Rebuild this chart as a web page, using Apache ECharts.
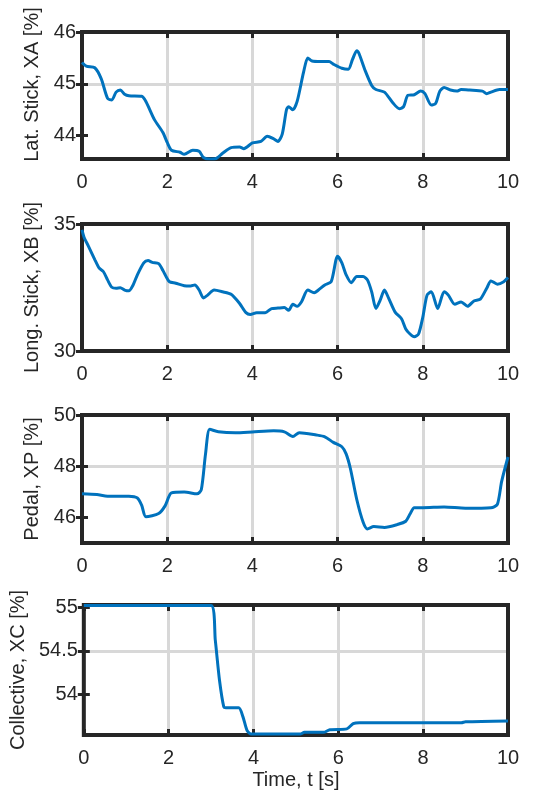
<!DOCTYPE html>
<html>
<head>
<meta charset="utf-8">
<script src="https://cdn.jsdelivr.net/npm/echarts@6.0.0/dist/echarts.min.js"></script>
<style>
html,body{margin:0;padding:0;background:#fff;}
#chart{width:542px;height:793px;}
</style>
</head>
<body>
<div id="chart"></div>
<script>
// ---- Data ----
const xTicks = [0, 2, 4, 6, 8, 10];

const latT  = [0,0.1,0.3,0.45,0.6,0.7,0.8,0.9,1.0,1.1,1.4,1.5,1.7,1.9,2.0,2.1,2.3,2.4,2.6,2.75,2.85,3.0,3.15,3.3,3.5,3.7,3.8,4.0,4.2,4.35,4.5,4.6,4.7,4.8,4.85,4.95,5.05,5.2,5.3,5.4,5.6,5.8,5.9,6.1,6.25,6.35,6.45,6.5,6.65,6.8,6.9,7.1,7.3,7.45,7.55,7.65,7.8,7.95,8.05,8.2,8.3,8.4,8.5,8.65,8.8,8.9,9.1,9.4,9.5,9.6,9.8,10];
const latXA = [45.41,45.34,45.31,45.1,44.72,44.69,44.84,44.88,44.8,44.77,44.76,44.66,44.31,44.06,43.87,43.72,43.68,43.64,43.72,43.7,43.58,43.55,43.56,43.66,43.77,43.78,43.75,43.86,43.89,43.99,43.94,43.89,44.03,44.5,44.56,44.5,44.66,45.22,45.5,45.44,45.43,45.43,45.38,45.3,45.28,45.47,45.64,45.59,45.25,44.97,44.89,44.84,44.63,44.52,44.56,44.78,44.79,44.86,44.81,44.59,44.62,44.86,44.93,44.88,44.86,44.89,44.88,44.86,44.81,44.84,44.89,44.89];
const latTicks = [44, 45, 46];

const lonT  = [0,0.05,0.15,0.3,0.4,0.5,0.6,0.7,0.8,0.9,1.0,1.1,1.2,1.3,1.45,1.55,1.65,1.8,1.9,2.05,2.2,2.4,2.55,2.65,2.75,2.85,2.95,3.1,3.3,3.5,3.7,3.85,3.95,4.1,4.3,4.45,4.6,4.75,4.85,4.95,5.05,5.15,5.3,5.45,5.55,5.7,5.85,6.0,6.1,6.2,6.32,6.45,6.6,6.7,6.8,6.9,7.0,7.1,7.2,7.35,7.5,7.6,7.7,7.8,7.9,8.0,8.1,8.2,8.35,8.5,8.6,8.75,8.9,9.05,9.2,9.35,9.5,9.6,9.75,9.9,10];
const lonXB = [34.77,34.47,34.13,33.6,33.27,33.13,32.8,32.51,32.47,32.49,32.4,32.37,32.6,33.0,33.47,33.56,33.49,33.44,33.17,32.73,32.67,32.57,32.56,32.6,32.4,32.09,32.2,32.4,32.33,32.23,31.87,31.51,31.44,31.51,31.51,31.67,31.69,31.71,31.6,31.84,31.76,31.93,32.4,32.29,32.4,32.6,32.73,33.73,33.47,33.0,32.69,32.93,32.93,32.8,32.33,31.67,32.0,32.4,32.07,31.53,31.27,30.87,30.67,30.56,30.67,31.33,32.2,32.33,31.67,32.33,32.2,31.84,31.93,31.76,31.97,32.04,32.47,32.76,32.63,32.73,32.89];
const lonTicks = [30, 35];

const pedT  = [0,0.35,0.6,1.1,1.3,1.4,1.5,1.8,1.95,2.1,2.4,2.7,2.8,2.9,3.0,3.2,3.6,4.0,4.5,4.75,4.95,5.1,5.5,5.7,5.9,6.1,6.2,6.3,6.45,6.6,6.7,6.85,7.1,7.4,7.6,7.7,7.8,8.0,8.5,9.0,9.6,9.75,9.85,10];
const pedXP = [46.92,46.89,46.83,46.83,46.76,46.48,46.03,46.15,46.45,46.96,46.99,46.92,47.08,48.48,49.44,49.35,49.31,49.34,49.38,49.34,49.16,49.31,49.22,49.15,48.93,48.76,48.48,47.91,46.7,45.81,45.55,45.64,45.61,45.72,45.85,46.13,46.38,46.38,46.41,46.36,46.38,46.51,47.4,48.36];
const pedTicks = [46, 48, 50];

const colT  = [0,1,2,3.0,3.1,3.2,3.3,3.35,3.65,3.75,3.85,3.95,4.5,5.1,5.2,5.65,5.8,6.2,6.35,6.5,7.5,8.9,9.0,10];
const colXC = [55.02,55.02,55.02,55.02,54.62,54.16,53.86,53.85,53.85,53.75,53.59,53.55,53.55,53.55,53.57,53.57,53.6,53.61,53.67,53.68,53.68,53.68,53.69,53.7];
const colTicks = [54, 54.5, 55];

// ---- Layout / style ----
const FONT = 'Liberation Sans, Arial, Helvetica, sans-serif';
const TXT = '#262626';
const LEFT = 82, WIDTH = 426;
const panels = [
  {top: 32,  height: 127, t: latT, v: latXA, ticks: latTicks, min: 43.55, max: 46,    name: 'Lat. Stick, XA [%]',  gap: 32, pad: [0,0,0,22]},
  {top: 224, height: 127, t: lonT, v: lonXB, ticks: lonTicks, min: 30,    max: 35,    name: 'Long. Stick, XB [%]', gap: 32, pad: [0,0,0,0]},
  {top: 415, height: 128, t: pedT, v: pedXP, ticks: pedTicks, min: 45,    max: 50,    name: 'Pedal, XP [%]',       gap: 32, pad: [0,0,0,0]},
  {top: 605, height: 130, t: colT, v: colXC, ticks: colTicks, min: 53.54, max: 55.025, name: 'Collective, XC [%]', gap: 46, pad: [0,0,0,0]}
];

const tickStyle = {show: true, inside: true, length: 6, lineStyle: {color: TXT, width: 3}};
const gridLine = {show: true, showMinLine: false, showMaxLine: false, lineStyle: {color: '#d8d8d8', width: 3}};

const grid = [], xAxis = [], yAxis = [], series = [];
panels.forEach((p, i) => {
  grid.push({left: LEFT, width: WIDTH, top: p.top, height: p.height, show: true, z: 3,
             borderColor: TXT, borderWidth: 4, backgroundColor: 'transparent'});
  xAxis.push({
    type: 'value', gridIndex: i, position: 'bottom', min: 0, max: 10, interval: 2,
    axisLine: {show: false}, axisTick: tickStyle, splitLine: gridLine,
    axisLabel: {fontSize: 20, color: TXT, fontFamily: FONT, margin: 13},
    name: i === 3 ? 'Time, t [s]' : '', nameLocation: 'middle', nameGap: 35,
    nameTextStyle: {fontSize: 20, color: TXT, fontFamily: FONT}
  });
  xAxis.push({
    type: 'value', gridIndex: i, position: 'top', min: 0, max: 10, interval: 2,
    axisLine: {show: false}, axisTick: tickStyle, splitLine: {show: false}, axisLabel: {show: false}
  });
  yAxis.push({
    type: 'value', gridIndex: i, position: 'left', min: p.min, max: p.max,
    axisLine: {show: false},
    axisTick: Object.assign({}, tickStyle, {customValues: p.ticks}),
    splitLine: gridLine,
    axisLabel: {fontSize: 20, color: TXT, fontFamily: FONT, margin: 6, customValues: p.ticks},
    name: p.name, nameLocation: 'middle', nameRotate: 90, nameGap: p.gap,
    nameTextStyle: {fontSize: 20, color: TXT, fontFamily: FONT, padding: p.pad}
  });
  yAxis.push({
    type: 'value', gridIndex: i, position: 'right', min: p.min, max: p.max,
    axisLine: {show: false},
    axisTick: Object.assign({}, tickStyle, {customValues: p.ticks}),
    splitLine: {show: false}, axisLabel: {show: false, customValues: p.ticks}
  });
  series.push({
    type: 'line', xAxisIndex: 2 * i, yAxisIndex: 2 * i,
    data: p.t.map((t, k) => [t, p.v[k]]),
    showSymbol: false, smooth: 0.25, z: 5,
    lineStyle: {color: '#0072BD', width: 3}
  });
});

const chart = echarts.init(document.getElementById('chart'), null, {renderer: 'canvas'});
chart.setOption({animation: false, backgroundColor: '#fff', grid, xAxis, yAxis, series});
</script>
</body>
</html>
